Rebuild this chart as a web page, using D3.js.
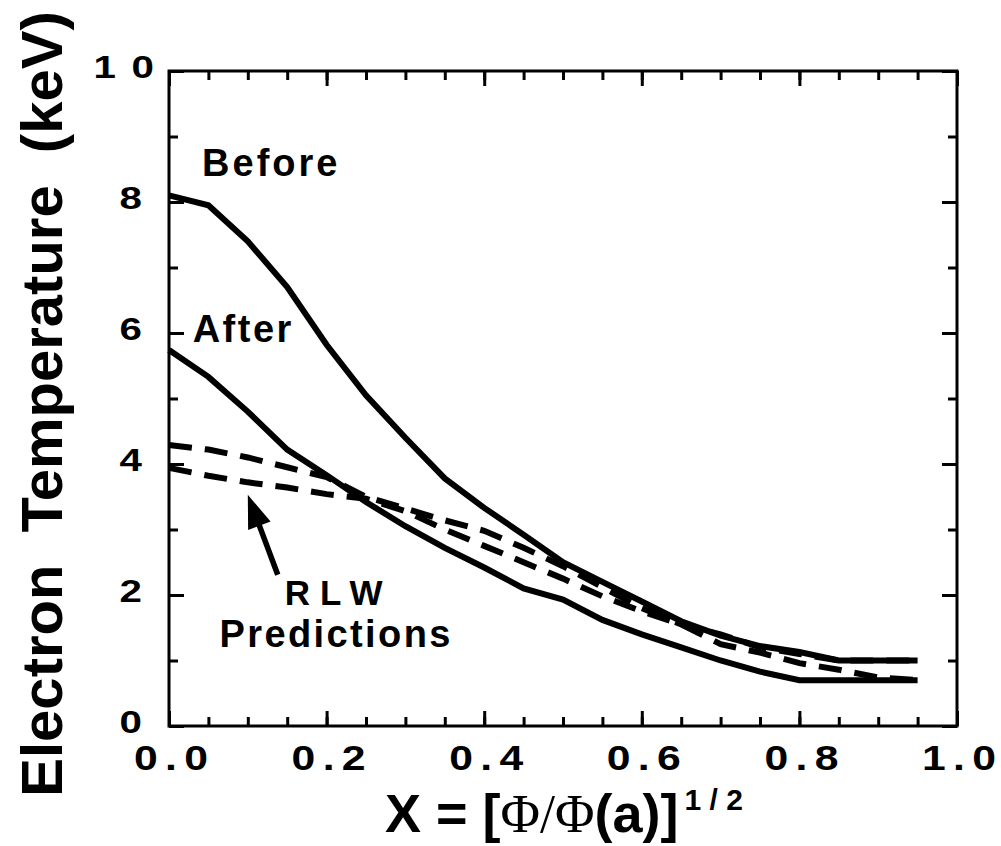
<!DOCTYPE html>
<html><head><meta charset="utf-8">
<script src="https://cdn.jsdelivr.net/npm/d3@7/dist/d3.min.js"></script>
<style>
body{margin:0;background:#fff}
svg{display:block}
text{font-family:"Liberation Sans",Arial,Helvetica,sans-serif;font-weight:bold;fill:#000}
</style>
</head><body>
<svg id="chart" width="1001" height="846"></svg>
<script>
// ---- data ----
const xValues   = [0,0.05,0.1,0.15,0.2,0.25,0.3,0.35,0.4,0.45,0.5,0.55,0.6,0.65,0.7,0.75,0.8,0.85,0.9,0.95];
const beforeTe  = [8.1,7.95,7.4,6.7,5.82,5.05,4.4,3.78,3.33,2.92,2.5,2.2,1.9,1.6,1.38,1.22,1.13,1.0,1.0,1.0];
const afterTe   = [5.74,5.33,4.8,4.22,3.83,3.42,3.05,2.72,2.42,2.1,1.93,1.62,1.4,1.2,1.0,0.83,0.7,0.7,0.7,0.7];
const rlwUpper  = [4.29,4.22,4.1,3.95,3.8,3.5,3.32,3.14,2.98,2.72,2.44,2.12,1.8,1.55,1.4,1.2,1.1,1.0,1.0,1.0];
const rlwLower  = [3.94,3.82,3.72,3.64,3.54,3.47,3.28,3.0,2.75,2.5,2.25,1.98,1.75,1.55,1.25,1.12,0.96,0.86,0.74,0.7];
const xTickLabels = ["0.0","0.2","0.4","0.6","0.8","1.0"];
const xTickValues = [0,0.2,0.4,0.6,0.8,1.0];
const yTickLabels = ["0","2","4","6","8","10"];
const yTickValues = [0,2,4,6,8,10];
const xMinorTicks = d3.range(0,21).map(i=>i*0.05);
const yMinorTicks = d3.range(0,11);
// annotations (data coords)
const labels = [
  {text:"Before", x:0.042, y:8.4, size:38, ls:3},
  {text:"After", x:0.030, y:5.86, size:38, ls:2.5},
  {text:"RLW", x:0.147, y:1.85, size:35, ls:10},
  {text:"Predictions", x:0.064, y:1.2, size:38, ls:2.4}
];
const arrowTail = [0.138, 2.31];
const arrowTip  = [0.100, 3.53];

// ---- scales ----
const svg = d3.select("#chart");
const x = d3.scaleLinear().domain([0,1]).range([169,957]);
const y = d3.scaleLinear().domain([0,10]).range([726,71]);

// ---- ticks (inward, all four sides) ----
function tickAxis(axisFn, scale, vals, size, tr){
  const g = svg.append("g").attr("transform", tr)
    .call(axisFn(scale).tickValues(vals).tickSize(-size).tickFormat(""));
  g.select(".domain").remove();
  g.selectAll(".tick line").attr("stroke","#000").attr("stroke-width",3);
}
tickAxis(d3.axisBottom, x, xMinorTicks, 9, "translate(0,726)");
tickAxis(d3.axisBottom, x, xTickValues, 15, "translate(0,726)");
tickAxis(d3.axisTop, x, xMinorTicks, 9, "translate(0,71)");
tickAxis(d3.axisTop, x, xTickValues, 15, "translate(0,71)");
tickAxis(d3.axisLeft, y, yMinorTicks, 9, "translate(169,0)");
tickAxis(d3.axisLeft, y, yTickValues, 15, "translate(169,0)");
tickAxis(d3.axisRight, y, yMinorTicks, 9, "translate(957,0)");
tickAxis(d3.axisRight, y, yTickValues, 15, "translate(957,0)");

// frame
svg.append("rect")
  .attr("x", x(0)).attr("y", y(10))
  .attr("width", x(1)-x(0)).attr("height", y(0)-y(10))
  .attr("fill","none").attr("stroke","#000").attr("stroke-width",3);

// tick labels (spaced characters via dx, slightly widened glyphs as in the reference)
const spaced = (s, gap) => s.split("").map((c,i)=>i?gap:0).join(" ");
const xSx = 1.22;
svg.append("g").selectAll("text").data(xTickValues).join("text")
  .attr("transform", d=>`translate(${x(d)+2},770) scale(${xSx},1)`)
  .attr("text-anchor","middle").style("font-size","35px")
  .attr("dx",(d,i)=>spaced(xTickLabels[i],6))
  .text((d,i)=>xTickLabels[i]);
const ySx = 1.3;
svg.append("g").selectAll("text").data(yTickValues).join("text")
  .attr("transform", (d,i)=>`translate(${yTickLabels[i].length>1?154:142},${y(d)+7}) scale(${ySx},1)`)
  .attr("text-anchor","end").style("font-size","31px")
  .attr("dx",(d,i)=>spaced(yTickLabels[i],12))
  .text((d,i)=>yTickLabels[i]);

// ---- lines ----
const line = d3.line().x((d,i)=>x(xValues[i])).y(d=>y(d));
const series = [
  {v:beforeTe, dash:null},
  {v:afterTe, dash:null},
  {v:rlwUpper, dash:"23,13"},
  {v:rlwLower, dash:"23,13"}
];
svg.append("g").selectAll("path").data(series).join("path")
  .attr("d", d=>line(d.v))
  .attr("fill","none").attr("stroke","#000").attr("stroke-width",6)
  .attr("stroke-dasharray", d=>d.dash);

// ---- annotations ----
svg.append("g").selectAll("text").data(labels).join("text")
  .attr("x", d=>x(d.x)).attr("y", d=>y(d.y))
  .style("font-size", d=>d.size+"px")
  .attr("dx", d=>spaced(d.text, d.ls))
  .text(d=>d.text);

// arrow
{
  const tx=x(arrowTail[0]), ty=y(arrowTail[1]), hx=x(arrowTip[0]), hy=y(arrowTip[1]);
  const len=Math.hypot(hx-tx,hy-ty), ux=(hx-tx)/len, uy=(hy-ty)/len;
  const hl=33, hw=12;
  const bx=hx-hl*ux, by=hy-hl*uy, nx=-uy, ny=ux;
  svg.append("line").attr("x1",tx).attr("y1",ty).attr("x2",bx+ux*2).attr("y2",by+uy*2)
    .attr("stroke","#000").attr("stroke-width",5.5);
  svg.append("polygon")
    .attr("points",[[hx,hy],[bx+hw*nx,by+hw*ny],[bx-hw*nx,by-hw*ny]].map(p=>p.join(",")).join(" "))
    .attr("fill","#000");
}

// ---- axis titles ----
svg.append("text")
  .attr("transform","translate(62,404) rotate(-90)")
  .attr("text-anchor","middle")
  .style("font-size","58px").style("white-space","pre")
  .text("Electron  Temperature  (keV)");

const xt = svg.append("text").attr("x",385).attr("y",832).style("font-size","54px");
xt.append("tspan").text("X = [");
xt.append("tspan").style("font-family","'Liberation Serif','Times New Roman',serif").style("font-weight","normal").text("Φ/Φ");
xt.append("tspan").text("(a)]");
xt.append("tspan").attr("dx",6).attr("dy",-22).style("font-size","30px").style("white-space","pre").text("1 / 2");
</script>
</body></html>
